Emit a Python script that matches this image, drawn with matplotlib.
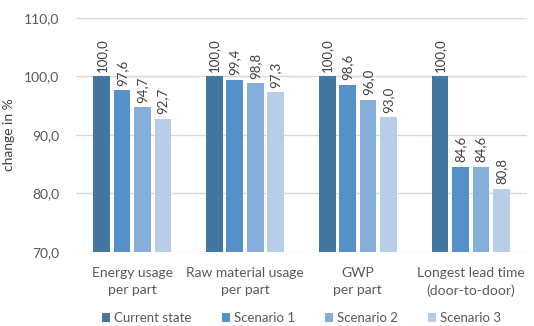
import matplotlib.pyplot as plt
import numpy as np

plt.rcParams['font.family'] = ['Lato', 'DejaVu Sans']

categories = ['Energy usage\nper part', 'Raw material usage\nper part', 'GWP\nper part',
              'Longest lead time\n(door-to-door)']
series = ['Current state', 'Scenario 1', 'Scenario 2', 'Scenario 3']
current = [100.0, 100.0, 100.0, 100.0]
scen1 = [97.6, 99.4, 98.6, 84.6]
scen2 = [94.7, 98.8, 96.0, 84.6]
scen3 = [92.7, 97.3, 93.0, 80.8]
colors = ['#44779f', '#5590c8', '#86aedb', '#b7cde8']

fig = plt.figure(figsize=(5.34, 3.26), dpi=100)
ax = fig.add_axes([0.142, 0.227, 0.845, 0.718])

x = np.arange(len(categories))
step = 0.181
width = 0.148
for i, (name, vals) in enumerate(zip(series, [current, scen1, scen2, scen3])):
    pos = x + (i - 1.5) * step
    ax.bar(pos, vals, width, color=colors[i], label=name, zorder=3)
    for p, v in zip(pos, vals):
        ax.text(p, v + 0.8, f'{v:.1f}'.replace('.', ','), rotation=90, ha='center', va='bottom',
                fontsize=9.5, color='#404040', zorder=4)

ax.set_ylim(70, 110)
ax.set_xlim(-0.5, 3.5)
ax.set_yticks([70, 80, 90, 100, 110])
ax.set_yticklabels([f'{t:.1f}'.replace('.', ',') for t in [70, 80, 90, 100, 110]])
ax.set_xticks(x)
ax.set_xticklabels(categories, linespacing=1.45)
ax.tick_params(axis='both', length=0, labelsize=10, colors='#595959')
ax.tick_params(axis='x', pad=11)
ax.tick_params(axis='y', pad=12)
ax.grid(axis='y', color='#d9d9d9', linewidth=1, zorder=0)
for s in ax.spines.values():
    s.set_visible(False)
ax.set_ylabel('change in %', fontsize=10, color='#404040', labelpad=6)

ax.legend(loc='center', bbox_to_anchor=(0.5, -0.283), ncol=4, frameon=False, fontsize=9.5,
          handlelength=0.6, handleheight=0.6, handletextpad=0.3, columnspacing=2.3,
          labelcolor='#595959', borderpad=0.1)

fig.savefig('out.png', dpi=100)
